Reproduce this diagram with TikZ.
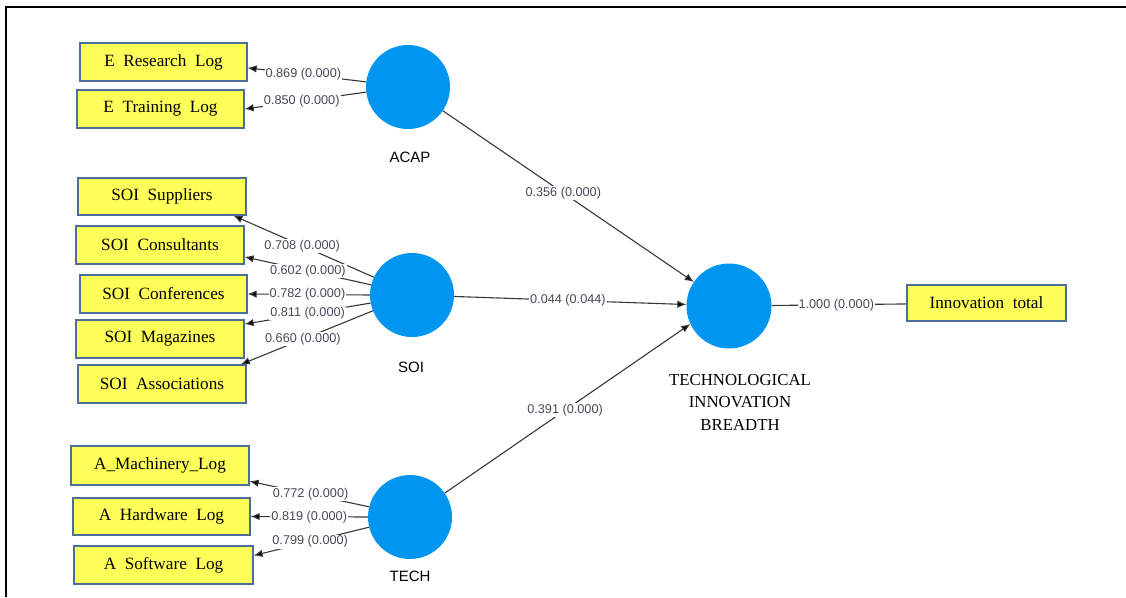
\documentclass[tikz,border=0pt]{standalone}
\usepackage{fontspec}
\setmainfont{Liberation Serif}
\newfontfamily\lsans{Liberation Sans}
\usetikzlibrary{arrows.meta}
\definecolor{cblue}{RGB}{0,150,240}
\definecolor{boxyellow}{RGB}{255,255,90}
\definecolor{boxborder}{RGB}{75,110,155}
\definecolor{linegray}{RGB}{55,55,55}
\definecolor{numgray}{RGB}{75,72,85}
\begin{document}
\begin{tikzpicture}[x=1pt,y=-1pt,
  ind/.style={draw=boxborder, fill=boxyellow, line width=1.3pt, minimum height=38pt, inner sep=0pt, font=\fontsize{17.2}{18}\selectfont},
  lv/.style={circle, fill=cblue, minimum size=84pt, inner sep=0pt},
  lvlbl/.style={font=\lsans\fontsize{15}{18}\selectfont},
  ld/.style={draw=linegray, line width=1.1pt, -{Latex[length=9pt,width=7.5pt,fill=black]}},
  pl/.style={draw=linegray, line width=1.1pt},
  coef/.style={fill=white, inner sep=1pt, text=numgray, font=\lsans\fontsize{12.7}{14}\selectfont},
]
\useasboundingbox (0,0) rectangle (1126,597);
% frame
\draw[line width=2pt] (6,597) -- (6,6.5) -- (1126,6.5);

% indicators
\node[ind, minimum width=167pt] (eres) at (163.5,62) {E\ \ Research\ \ Log};
\node[ind, minimum width=167pt] (etra) at (160.5,109) {E\ \ Training\ \ Log};
\node[ind, minimum width=168pt, minimum height=37pt] (sup) at (162,196.5) {SOI\ \ Suppliers};
\node[ind, minimum width=168pt] (con) at (160,245) {SOI\ \ Consultants};
\node[ind, minimum width=167pt] (conf) at (163.5,294) {SOI\ \ Conferences};
\node[ind, minimum width=168pt] (mag) at (160,339) {SOI\ \ Magazines};
\node[ind, minimum width=168pt] (asso) at (162,384) {SOI\ \ Associations};
\node[ind, minimum width=178pt, minimum height=39pt] (mach) at (160,465.5) {A\_Machinery\_Log};
\node[ind, minimum width=177pt, minimum height=37pt] (hard) at (161.5,516.5) {A\ \ Hardware\ \ Log};
\node[ind, minimum width=179pt] (soft) at (163.5,565) {A\ \ Software\ \ Log};
\node[ind, minimum width=159pt, minimum height=36pt] (inn) at (986.5,303) {Innovation\ \ total};

% latent variables
\node[lv] (acap) at (408,87) {};
\node[lv] (soi) at (412,295) {};
\node[lv] (tech) at (410,517) {};
\node[lv, minimum size=85pt] (tib) at (729,306) {};

\node[lvlbl] (acapl) at (410,157) {ACAP};
\node[lvlbl] (soil) at (411,367) {SOI};
\node[lvlbl] (techl) at (410,576) {TECH};
\node[align=center, font=\fontsize{16.8}{22.5}\selectfont] (tibl) at (740,402) {TECHNOLOGICAL\\INNOVATION\\BREADTH};

% outer loadings
\draw[ld] (acap.173) -- node[coef, pos=0.53] {0.869 (0.000)} (eres.-4);
\draw[ld] (acap.187) -- node[coef, pos=0.53] {0.850 (0.000)} (etra.east);

\draw[ld] (soi.155) -- node[coef, pos=0.51] {0.708 (0.000)} (sup.-15);
\draw[ld] (soi.166) -- node[coef, pos=0.50] {0.602 (0.000)} (con.-8);
\draw[ld] (soi.180) -- node[coef, pos=0.51] {0.782 (0.000)} (conf.east);
\draw[ld] (soi.191) -- node[coef, pos=0.50] {0.811 (0.000)} (mag.10);
\draw[ld] (soi.202) -- node[coef, pos=0.53] {0.660 (0.000)} (asso.14);

\draw[ld] (tech.166) -- node[coef, pos=0.49] {0.772 (0.000)} (mach.-10);
\draw[ld] (tech.180) -- node[coef, pos=0.50] {0.819 (0.000)} (hard.east);
\draw[ld] (tech.194) -- node[coef, pos=0.51] {0.799 (0.000)} (soft.6);

% inner paths
\draw[ld] (acap) -- node[coef, pos=0.48] {0.356 (0.000)} (tib);
\draw[ld] (soi) -- node[coef, pos=0.49] {0.044 (0.044)} (tib);
\draw[ld] (tech) -- node[coef, pos=0.49] {0.391 (0.000)} (tib.205);
\draw[pl] (tib) -- node[coef, pos=0.48] {1.000 (0.000)} (inn);
\end{tikzpicture}
\end{document}
